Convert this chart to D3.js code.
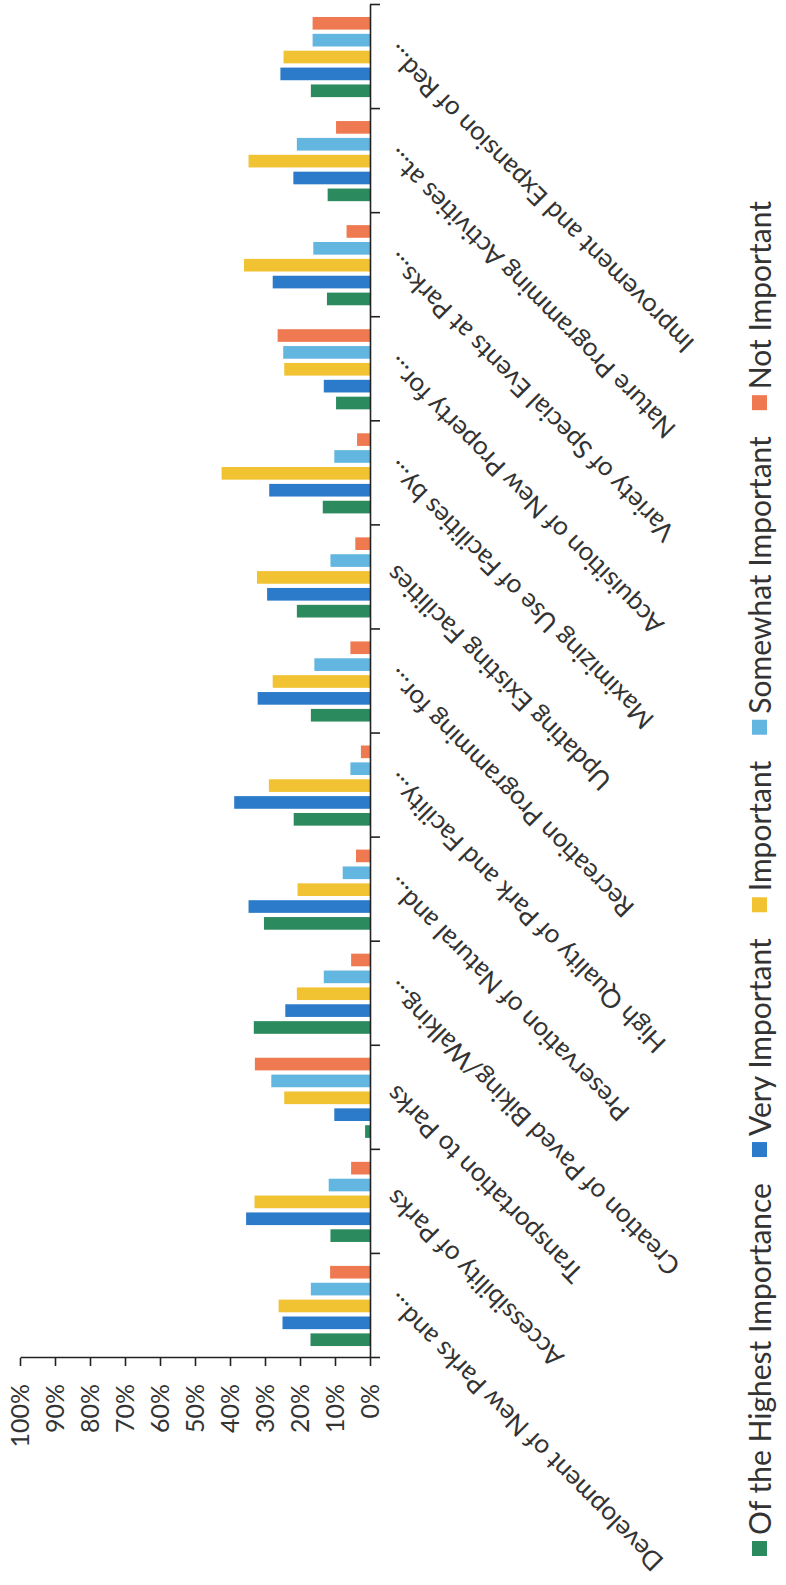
<!DOCTYPE html>
<html>
<head>
<meta charset="utf-8">
<script src="https://cdn.jsdelivr.net/npm/d3@7"></script>
<style>
  html, body { margin: 0; padding: 0; background: #ffffff; }
  svg { display: block; font-family: Lato, "Open Sans", sans-serif; }
</style>
</head>
<body>
<div id="chart"></div>
<script>
// ---- data (first category is drawn at the bottom of the rotated page) ----
const categories = [
  "Development of New Parks and...",
  "Accessibility of Parks",
  "Transportation to Parks",
  "Creation of Paved Biking/Walking...",
  "Preservation of Natural and...",
  "High Quality of Park and Facility...",
  "Recreation Programming for...",
  "Updating Existing Facilities",
  "Maximizing Use of Facilities by...",
  "Acquisition of New Property for...",
  "Variety of Special Events at Parks...",
  "Nature Programming Activities at...",
  "Improvement and Expansion of Red..."
];
const seriesNames = ["Of the Highest Importance", "Very Important", "Important", "Somewhat Important", "Not Important"];
const highestImportance = [17.0, 11.3, 1.4, 33.2, 30.3, 21.8, 16.9, 20.9, 13.5, 9.7, 12.3, 12.1, 16.9];
const veryImportant     = [25.0, 35.4, 10.2, 24.2, 34.7, 38.8, 32.1, 29.4, 28.8, 13.2, 27.8, 21.9, 25.6];
const important         = [26.1, 33.0, 24.5, 20.9, 20.7, 28.9, 27.8, 32.3, 42.4, 24.5, 36.0, 34.7, 24.7];
const somewhatImportant = [16.9, 11.8, 28.2, 13.2, 7.8, 5.6, 15.9, 11.3, 10.2, 24.8, 16.2, 20.9, 16.4];
const notImportant      = [11.4, 5.4, 32.9, 5.4, 4.0, 2.6, 5.6, 4.2, 3.7, 26.4, 6.7, 9.7, 16.4];
const valueTicks = [0, 10, 20, 30, 40, 50, 60, 70, 80, 90, 100];

const seriesValues = [highestImportance, veryImportant, important, somewhatImportant, notImportant];
const colors = ["#2b8a5e", "#2c7bcb", "#f1c232", "#63b6e0", "#ef7a52"];

// ---- page: the whole chart is drawn unrotated and turned 90° counter-clockwise ----
const W = 786, H = 1585;
const svg = d3.select("#chart").append("svg").attr("width", W).attr("height", H);
svg.append("rect").attr("width", W).attr("height", H).attr("fill", "#ffffff");
const g = svg.append("g").attr("transform", `translate(0,${H}) rotate(-90)`);

const x0 = d3.scaleBand().domain(categories).range([227, 1580]).paddingInner(0.23).paddingOuter(0.115);
const x1 = d3.scaleBand().domain(seriesNames).range([0, x0.bandwidth()]).paddingInner(0.25);
const y = d3.scaleLinear().domain([0, 100]).range([370, 20]);
const color = d3.scaleOrdinal().domain(seriesNames).range(colors);

// bars
const rows = categories.map((c, i) => ({ cat: c, vals: seriesNames.map((s, j) => ({ s, v: seriesValues[j][i] })) }));
const grp = g.append("g").selectAll("g").data(rows).join("g")
  .attr("transform", d => `translate(${x0(d.cat)},0)`);
grp.selectAll("rect").data(d => d.vals).join("rect")
  .attr("x", d => x1(d.s))
  .attr("y", d => y(d.v))
  .attr("width", x1.bandwidth())
  .attr("height", d => y(0) - y(d.v))
  .attr("fill", d => color(d.s));

// value axis
const yAxis = g.append("g").attr("transform", "translate(227,0)")
  .call(d3.axisLeft(y).tickValues(valueTicks).tickFormat(d => d + "%").tickSize(8).tickPadding(18).tickSizeOuter(0));
yAxis.selectAll("text").attr("font-size", 25).attr("fill", "#333").attr("font-family", "Lato");
yAxis.selectAll("line, path").attr("stroke", "#222").attr("stroke-width", 1.6);

// category axis line + boundary ticks
const idx = d3.scaleLinear().domain([0, categories.length]).range([227, 1580]);
const xTicks = g.append("g").attr("transform", "translate(0,370)")
  .call(d3.axisBottom(idx).tickValues(d3.range(categories.length + 1)).tickFormat("").tickSize(10).tickSizeOuter(0));
xTicks.selectAll("line, path").attr("stroke", "#222").attr("stroke-width", 1.6);

// category labels
const xAxis = g.append("g").attr("transform", "translate(0,370)")
  .call(d3.axisBottom(x0).tickSize(0));
xAxis.select(".domain").remove();
xAxis.selectAll("text")
  .attr("x", 0).attr("y", 0).attr("dy", 0)
  .attr("transform", "translate(14,27) rotate(-45)")
  .style("text-anchor", "end")
  .attr("font-size", 26).attr("fill", "#333").attr("font-family", "Lato");

// legend
const legend = g.append("g");
let lx = 29;
seriesNames.forEach((s, i) => {
  legend.append("rect").attr("x", lx).attr("y", 752).attr("width", 15).attr("height", 15).attr("fill", color(s));
  const t = legend.append("text").attr("x", lx + 21).attr("y", 771)
    .attr("font-size", 30).attr("fill", "#333").attr("font-family", "Lato").text(s);
  lx += 21 + t.node().getComputedTextLength() + 26;
});
</script>
</body>
</html>
